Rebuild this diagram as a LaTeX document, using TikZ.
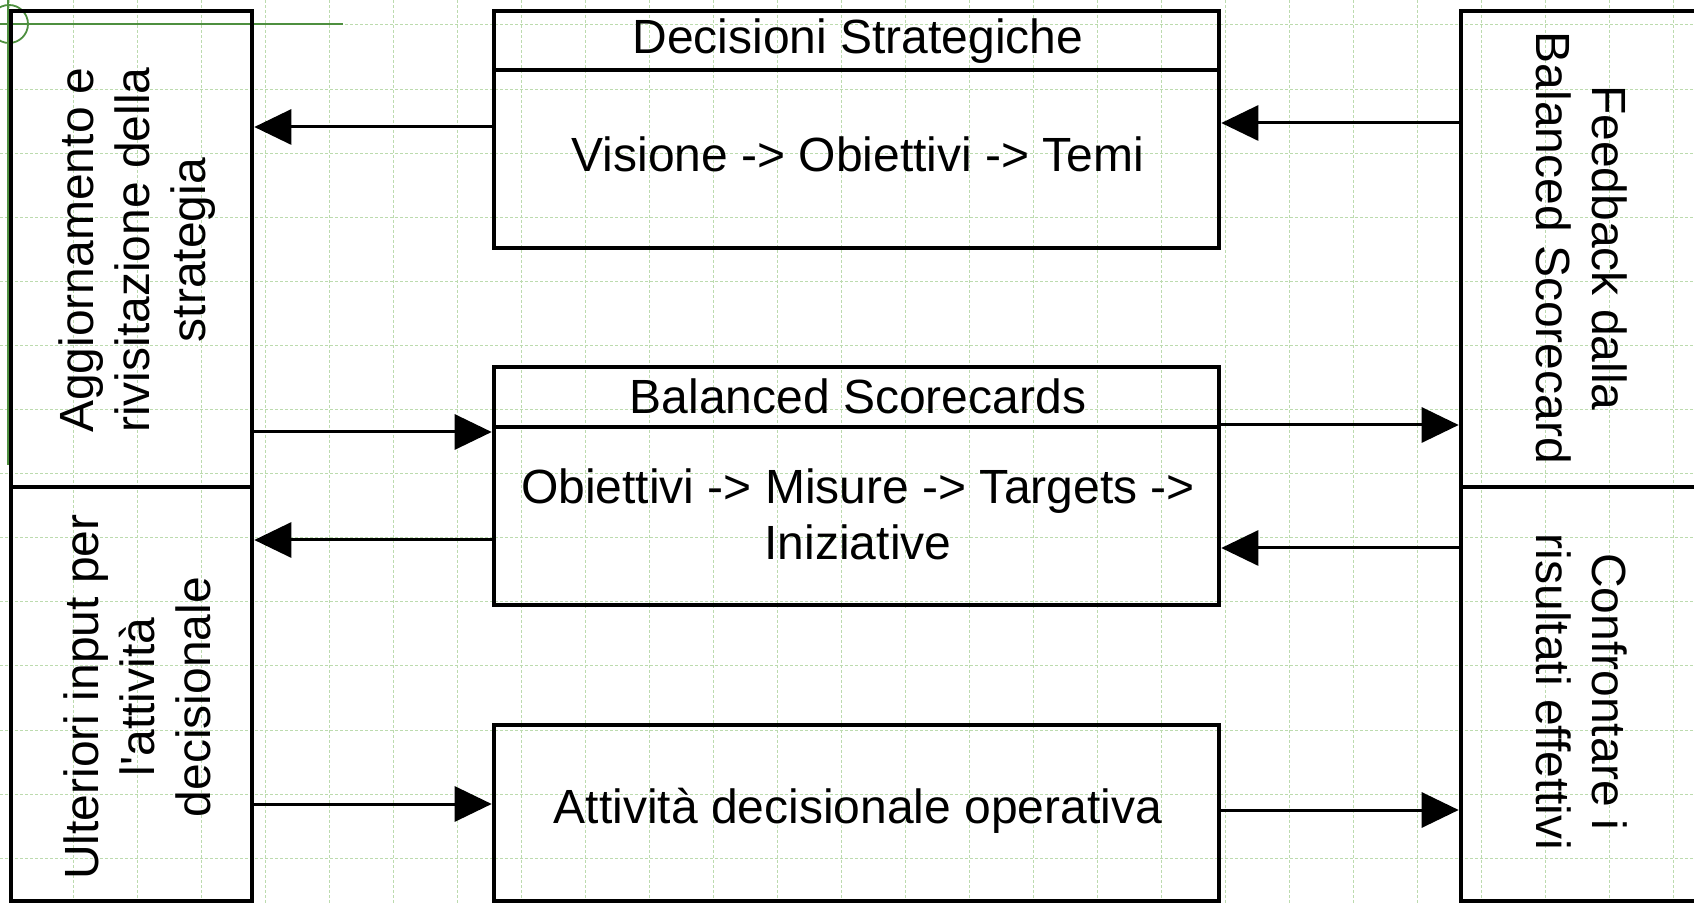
\documentclass[tikz,border=0pt]{standalone}
\usepackage{fontspec}
\setmainfont{Liberation Sans}
\usetikzlibrary{arrows.meta}
\definecolor{gridgreen}{HTML}{BCDBAE}
\definecolor{rulegreen}{HTML}{4E8F3F}
\begin{document}
\begin{tikzpicture}[x=0.5pt,y=-0.5pt,
  box/.style={draw=black, line width=2.3pt, rectangle, inner sep=0pt},
  lbl/.style={font=\fontsize{24}{28}\selectfont, align=center, inner sep=0pt},
  arr/.style={line width=1.5pt, -{Triangle[length=18.5pt,width=17.5pt]}},
  gridline/.style={gridgreen, line width=0.5pt, dash pattern=on 1.6pt off 0.9pt},
  rule/.style={rulegreen, line width=0.9pt}]
\useasboundingbox (0,0) rectangle (1694,903);

% background grid and ruler marks
\begin{scope}
  \clip (0,0) rectangle (1694,903);
  \foreach \k in {0,...,26} \draw[gridline] (9+64*\k,0) -- (9+64*\k,903);
  \foreach \k in {0,...,13} \draw[gridline] (0,25+64.1*\k) -- (1694,25+64.1*\k);
  \draw[rule] (0,24) -- (343,24);
  \draw[rule] (8,0) -- (8,465);
  \draw[rule] (9,24) circle[radius=19];
\end{scope}

% left column
\node[box, minimum width=120.5pt, minimum height=238pt] (lt) at (131.5,249) {};
\node[box, minimum width=120.5pt, minimum height=207pt] (lb) at (131.5,694) {};
% right column
\node[box, minimum width=120.5pt, minimum height=238pt] (rt) at (1581.5,249) {};
\node[box, minimum width=120.5pt, minimum height=207pt] (rb) at (1581.5,694) {};
% central column
\node[box, minimum width=362.5pt, minimum height=29.5pt] (dsH) at (856.5,40.5) {};
\node[box, minimum width=362.5pt, minimum height=89pt] (dsB) at (856.5,159) {};
\node[box, minimum width=362.5pt, minimum height=30pt] (bsH) at (856.5,397) {};
\node[box, minimum width=362.5pt, minimum height=89pt] (bsB) at (856.5,516) {};
\node[box, minimum width=362.5pt, minimum height=88pt] (att) at (856.5,813) {};

% labels
\node[lbl] (dsHt) at (858,41) {Decisioni Strategiche};
\node[lbl] (dsBt) at (858,154) {Visione -> Obiettivi -> Temi};
\node[lbl] (bsHt) at (858,396) {Balanced Scorecards};
\node[lbl] (bsBt) at (858,514) {Obiettivi -> Misure -> Targets ->\\Iniziative};
\node[lbl] (attt) at (858,811) {Attività decisionale operativa};
\node[lbl, rotate=90] (ltt) at (137,250) {Aggiornamento e\\rivisitazione della\\strategia};
\node[lbl, rotate=90] (lbt) at (137,697) {Ulteriori input per\\l\textquotesingle attività\\decisionale};
\node[lbl, rotate=-90] (rtt) at (1581.5,248) {Feedback dalla\\Balanced Scorecard};
\node[lbl, rotate=-90] (rbt) at (1581.5,692) {Confrontare i\\risultati effettivi};

% connectors
\coordinate (a1) at (0,127);
\coordinate (a2) at (0,123);
\coordinate (a3) at (0,432);
\coordinate (a4) at (0,540);
\coordinate (a5) at (0,425);
\coordinate (a6) at (0,548);
\coordinate (a7) at (0,804);
\coordinate (a8) at (0,810);
\draw[arr] (dsB.west |- a1) -- (lt.east |- a1);
\draw[arr] (rt.west |- a2) -- (dsB.east |- a2);
\draw[arr] (lt.east |- a3) -- (bsB.west |- a3);
\draw[arr] (bsB.west |- a4) -- (lb.east |- a4);
\draw[arr] (bsH.east |- a5) -- (rt.west |- a5);
\draw[arr] (rb.west |- a6) -- (bsB.east |- a6);
\draw[arr] (lb.east |- a7) -- (att.west |- a7);
\draw[arr] (att.east |- a8) -- (rb.west |- a8);
\end{tikzpicture}
\end{document}
